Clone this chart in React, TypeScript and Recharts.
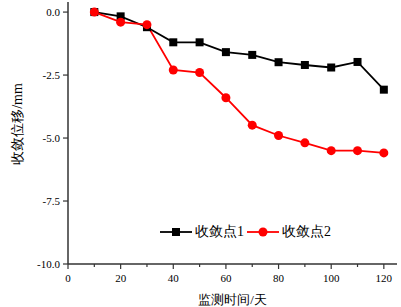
import { Label, Legend, Line, LineChart, XAxis, YAxis } from "recharts";

// 监测数据
const days = [10, 20, 30, 40, 50, 60, 70, 80, 90, 100, 110, 120];
const point1 = [0, -0.17, -0.6, -1.2, -1.2, -1.59, -1.7, -1.99, -2.1, -2.2, -1.98, -3.08];
const point2 = [0, -0.4, -0.5, -2.3, -2.4, -3.4, -4.49, -4.9, -5.19, -5.5, -5.5, -5.59];
const seriesNames = ["收敛点1", "收敛点2"];
const xTicks = [0, 10, 20, 30, 40, 50, 60, 70, 80, 90, 100, 110, 120];
const yTicks = [0, -2.5, -5, -7.5, -10];

const data = days.map((d, i) => ({ day: d, p1: point1[i], p2: point2[i] }));

const FONT = "'Times New Roman', 'Liberation Serif', serif";
const AXIS = "#333";

const XTick = (props: any) => {
  const { x, y, payload } = props;
  const major = payload.value % 20 === 0;
  return (
    <g>
      <line x1={x} x2={x} y1={y} y2={y + (major ? 5 : 3)} stroke={AXIS} strokeWidth={1.2} />
      {major && (
        <text x={x} y={y + 18} textAnchor="middle" fontSize={11} fontFamily={FONT} fill="#000">
          {payload.value}
        </text>
      )}
    </g>
  );
};

const SquareDot = (props: any) => {
  const { cx, cy, index } = props;
  return <rect key={`sq-${index}`} x={cx - 4} y={cy - 4} width={8} height={8} fill="#000" />;
};

const YLabel = (props: any) => {
  const { viewBox } = props;
  const cx = viewBox.x + 17;
  const cy = viewBox.y + viewBox.height / 2 - 9;
  return (
    <text
      transform={`translate(${cx}, ${cy}) rotate(-90)`}
      textAnchor="middle"
      dominantBaseline="central"
      fontSize={14}
      fontFamily={FONT}
      fill="#000"
    >
      {"收敛位移/mm"}
    </text>
  );
};

const LegendContent = () => (
  <div style={{ display: "flex", alignItems: "center", fontSize: 14, fontFamily: FONT, color: "#000" }}>
    <svg width={32} height={14} style={{ marginRight: 3 }}>
      <line x1={0} x2={32} y1={7} y2={7} stroke="#000" strokeWidth={1.8} />
      <rect x={12} y={3} width={8} height={8} fill="#000" />
    </svg>
    <span style={{ marginRight: 3 }}>{seriesNames[0]}</span>
    <svg width={32} height={14} style={{ marginRight: 3 }}>
      <line x1={0} x2={32} y1={7} y2={7} stroke="#ff0000" strokeWidth={1.8} />
      <circle cx={16} cy={7} r={4.5} fill="#ff0000" />
    </svg>
    <span>{seriesNames[1]}</span>
  </div>
);

export default function App() {
  return (
    <div style={{ position: "absolute", left: 0, top: 0, width: 401, height: 307, background: "#fff", fontFamily: FONT }}>
      <LineChart width={401} height={307} data={data} margin={{ top: 2, right: 4, bottom: 0, left: 0 }}>
        <XAxis
          dataKey="day"
          type="number"
          domain={[0, 125]}
          ticks={xTicks}
          interval={0}
          tick={<XTick />}
          tickLine={false}
          tickSize={0}
          tickMargin={0}
          height={43}
          axisLine={{ stroke: AXIS, strokeWidth: 1.5 }}
        >
          <Label value="监测时间/天" position="insideBottom" offset={3} fontSize={13} fontFamily={FONT} fill="#000" />
        </XAxis>
        <YAxis
          type="number"
          domain={[-10, 0.4]}
          ticks={yTicks}
          interval={0}
          allowDataOverflow
          width={68}
          tickSize={5}
          tickMargin={3}
          tickFormatter={(v: number) => v.toFixed(1)}
          tick={{ fontSize: 11, fill: "#000", fontFamily: FONT }}
          tickLine={{ stroke: AXIS, strokeWidth: 1.2 }}
          axisLine={{ stroke: AXIS, strokeWidth: 1.5 }}
        >
          <Label content={<YLabel />} />
        </YAxis>
        <Legend
          layout="horizontal"
          verticalAlign="middle"
          align="center"
          content={<LegendContent />}
          wrapperStyle={{ left: 160, top: 223, width: "auto" }}
        />
        <Line
          dataKey="p1"
          name={seriesNames[0]}
          stroke="#000"
          strokeWidth={1.8}
          dot={SquareDot}
          isAnimationActive={false}
        />
        <Line
          dataKey="p2"
          name={seriesNames[1]}
          stroke="#ff0000"
          strokeWidth={1.8}
          dot={{ r: 4.5, fill: "#ff0000", stroke: "#ff0000", strokeWidth: 0 }}
          isAnimationActive={false}
        />
      </LineChart>
    </div>
  );
}
